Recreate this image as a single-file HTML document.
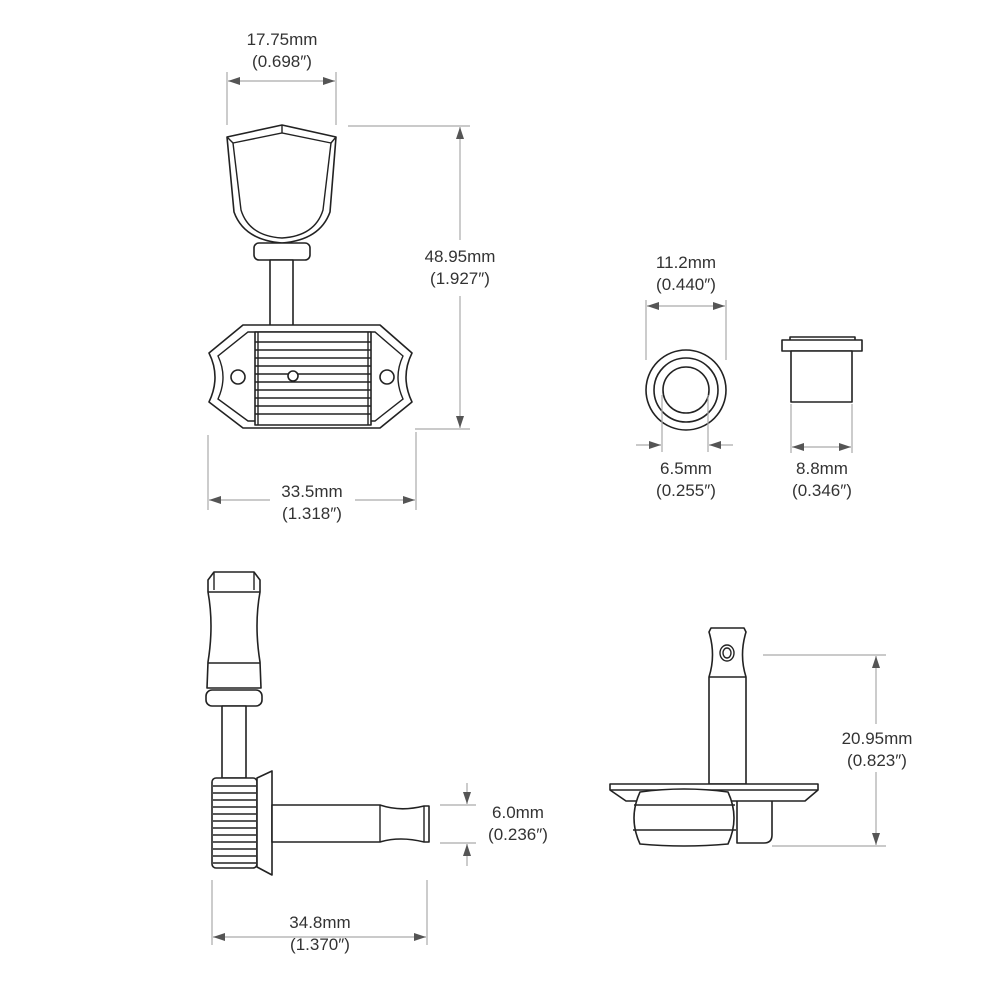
<!DOCTYPE html>
<html><head><meta charset="utf-8"><style>
html,body{margin:0;padding:0;background:#fff;}
svg{display:block}
text{font-family:"Liberation Sans",sans-serif;font-size:17px;fill:#333;text-anchor:middle}
.o{fill:#fff;stroke:#222;stroke-width:1.6;stroke-linejoin:round}
.l{fill:none;stroke:#222;stroke-width:1.4}
.d{fill:none;stroke:#aaa;stroke-width:1.2}
.a{fill:#555}
</style></head><body>
<svg width="1000" height="1000" viewBox="0 0 1000 1000">
<defs>
<marker id="ar" viewBox="0 0 12 8" refX="12" refY="4" markerWidth="12" markerHeight="8" orient="auto-start-reverse" markerUnits="userSpaceOnUse"><path d="M0,0L12,4L0,8z" class="a"/></marker>
</defs>

<line class="d" x1="227" y1="72" x2="227" y2="125"/>
<line class="d" x1="336" y1="72" x2="336" y2="125"/>
<line class="d" x1="228" y1="81" x2="335" y2="81" marker-start="url(#ar)" marker-end="url(#ar)"/>
<text x="282" y="45">17.75mm</text>
<text x="282" y="67">(0.698″)</text>

<path class="o" d="M227,137 L282,125 L336,137 L330,212 Q320,240 282,243 Q244,240 234,212 Z"/>
<path class="l" d="M233,143 L282,133 L331,143 L323,210 Q315,236 282,238 Q249,236 241,210 Z"/>
<line class="l" x1="282" y1="125" x2="282" y2="133"/>
<line class="l" x1="227" y1="137" x2="233" y2="143"/>
<line class="l" x1="336" y1="137" x2="331" y2="143"/>
<rect class="o" x="254" y="243" width="56" height="17" rx="5"/>
<rect class="o" x="270" y="260" width="23" height="72"/>
<path class="o" d="M243,325 L380,325 L412,353 Q400,377 412,402 L380,428 L243,428 L209,402 Q221,377 209,353 Z"/>
<path class="l" d="M248,332 L375,332 L403,356 Q393,377 403,399 L375,421 L248,421 L218,399 Q228,377 218,356 Z"/>
<rect class="o" x="255" y="332" width="116" height="93"/>
<g class="l">
<line x1="255" y1="342" x2="371" y2="342"/><line x1="255" y1="350" x2="371" y2="350"/>
<line x1="255" y1="358" x2="371" y2="358"/><line x1="255" y1="366" x2="371" y2="366"/>
<line x1="255" y1="374" x2="371" y2="374"/><line x1="255" y1="382" x2="371" y2="382"/>
<line x1="255" y1="390" x2="371" y2="390"/><line x1="255" y1="398" x2="371" y2="398"/>
<line x1="255" y1="406" x2="371" y2="406"/><line x1="255" y1="414" x2="371" y2="414"/>
<line x1="258" y1="332" x2="258" y2="425"/><line x1="368" y1="332" x2="368" y2="425"/>
</g>
<circle class="o" cx="238" cy="377" r="7"/>
<circle class="o" cx="387" cy="377" r="7"/>
<circle class="o" cx="293" cy="376" r="5"/>
<line class="d" x1="348" y1="126" x2="470" y2="126"/>
<line class="d" x1="415" y1="429" x2="470" y2="429"/>
<line class="d" x1="460" y1="127" x2="460" y2="240" marker-start="url(#ar)"/>
<line class="d" x1="460" y1="296" x2="460" y2="428" marker-end="url(#ar)"/>
<text x="460" y="262">48.95mm</text>
<text x="460" y="284">(1.927″)</text>
<line class="d" x1="208" y1="435" x2="208" y2="510"/>
<line class="d" x1="416" y1="432" x2="416" y2="510"/>
<line class="d" x1="209" y1="500" x2="270" y2="500" marker-start="url(#ar)"/>
<line class="d" x1="355" y1="500" x2="415" y2="500" marker-end="url(#ar)"/>
<text x="312" y="497">33.5mm</text>
<text x="312" y="519">(1.318″)</text>

<circle class="o" cx="686" cy="390" r="40"/>
<circle class="o" cx="686" cy="390" r="32"/>
<circle class="o" cx="686" cy="390" r="23"/>
<line class="d" x1="646" y1="300" x2="646" y2="360"/>
<line class="d" x1="726" y1="300" x2="726" y2="360"/>
<line class="d" x1="647" y1="306" x2="725" y2="306" marker-start="url(#ar)" marker-end="url(#ar)"/>
<text x="686" y="268">11.2mm</text>
<text x="686" y="290">(0.440″)</text>
<line class="d" x1="662" y1="395" x2="662" y2="452"/>
<line class="d" x1="708" y1="395" x2="708" y2="452"/>
<line class="d" x1="636" y1="445" x2="661" y2="445" marker-end="url(#ar)"/>
<line class="d" x1="733" y1="445" x2="709" y2="445" marker-end="url(#ar)"/>
<text x="686" y="474">6.5mm</text>
<text x="686" y="496">(0.255″)</text>

<rect class="o" x="790" y="337" width="65" height="4"/>
<rect class="o" x="782" y="340" width="80" height="11"/>
<rect class="o" x="791" y="351" width="61" height="51"/>
<line class="d" x1="791" y1="404" x2="791" y2="453"/>
<line class="d" x1="852" y1="404" x2="852" y2="453"/>
<line class="d" x1="792" y1="447" x2="851" y2="447" marker-start="url(#ar)" marker-end="url(#ar)"/>
<text x="822" y="474">8.8mm</text>
<text x="822" y="496">(0.346″)</text>

<path class="o" d="M208,580 L214,572 L254,572 L260,580 L260,592 Q254,625 260,662 L261,688 L207,688 L208,662 Q214,625 208,592 Z"/>
<line class="l" x1="208" y1="592" x2="260" y2="592"/>
<line class="l" x1="214" y1="572" x2="214" y2="590"/>
<line class="l" x1="254" y1="572" x2="254" y2="590"/>
<line class="l" x1="208" y1="663" x2="260" y2="663"/>
<rect class="o" x="206" y="690" width="56" height="16" rx="6"/>
<rect class="o" x="222" y="706" width="24" height="72"/>
<rect class="o" x="212" y="778" width="45" height="90" rx="4"/>
<g class="l">
<line x1="213" y1="786" x2="256" y2="786"/><line x1="213" y1="793" x2="256" y2="793"/>
<line x1="213" y1="800" x2="256" y2="800"/><line x1="213" y1="807" x2="256" y2="807"/>
<line x1="213" y1="814" x2="256" y2="814"/><line x1="213" y1="821" x2="256" y2="821"/>
<line x1="213" y1="828" x2="256" y2="828"/><line x1="213" y1="835" x2="256" y2="835"/>
<line x1="213" y1="842" x2="256" y2="842"/><line x1="213" y1="849" x2="256" y2="849"/>
<line x1="213" y1="856" x2="256" y2="856"/><line x1="213" y1="863" x2="256" y2="863"/>
</g>
<path class="o" d="M257,778 L272,771 L272,875 L257,867 Z"/>
<path class="o" d="M272,805 L380,805 Q400,812 424,806 L429,806 L429,842 L424,842 Q400,836 380,842 L272,842 Z"/>
<line class="l" x1="380" y1="805" x2="380" y2="842"/>
<line class="l" x1="424" y1="806" x2="424" y2="842"/>
<line class="d" x1="440" y1="805" x2="476" y2="805"/>
<line class="d" x1="440" y1="843" x2="476" y2="843"/>
<line class="d" x1="467" y1="783" x2="467" y2="804" marker-end="url(#ar)"/>
<line class="d" x1="467" y1="866" x2="467" y2="844" marker-end="url(#ar)"/>
<text x="518" y="818">6.0mm</text>
<text x="518" y="840">(0.236″)</text>
<line class="d" x1="212" y1="880" x2="212" y2="945"/>
<line class="d" x1="427" y1="880" x2="427" y2="945"/>
<line class="d" x1="213" y1="937" x2="426" y2="937" marker-start="url(#ar)" marker-end="url(#ar)"/>
<text x="320" y="928">34.8mm</text>
<text x="320" y="950">(1.370″)</text>

<path class="o" d="M709,632 L711,628 L744,628 L746,632 Q739,655 746,677 L746,784 L709,784 L709,677 Q716,655 709,632 Z"/>
<line class="l" x1="709" y1="677" x2="746" y2="677"/>
<ellipse class="l" cx="727" cy="653" rx="7" ry="8"/>
<ellipse class="l" cx="727" cy="653" rx="4" ry="5"/>
<path class="o" d="M737,800 L772,800 L772,835 Q772,843 764,843 L737,843 Z"/>
<path class="o" d="M610,784 L818,784 L818,790 L805,801 L626,801 L610,790 Z"/>
<line class="l" x1="610" y1="790" x2="818" y2="790"/>
<path class="o" d="M640,792 Q684,786 728,792 Q740,818 728,844 Q684,848 640,844 Q628,818 640,792 Z"/>
<line class="l" x1="634" y1="805" x2="735" y2="805"/>
<line class="l" x1="633" y1="830" x2="736" y2="830"/>
<line class="d" x1="763" y1="655" x2="886" y2="655"/>
<line class="d" x1="772" y1="846" x2="886" y2="846"/>
<line class="d" x1="876" y1="656" x2="876" y2="724" marker-start="url(#ar)"/>
<line class="d" x1="876" y1="772" x2="876" y2="845" marker-end="url(#ar)"/>
<text x="877" y="744">20.95mm</text>
<text x="877" y="766">(0.823″)</text>
</svg>
</body></html>
